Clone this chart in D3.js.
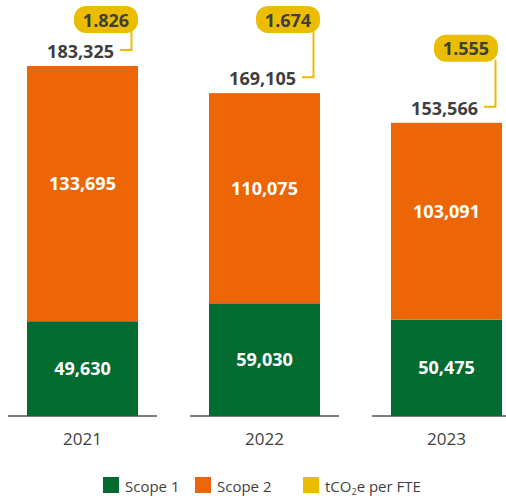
<!DOCTYPE html>
<html>
<head>
<meta charset="utf-8">
<script src="https://cdn.jsdelivr.net/npm/d3@7"></script>
<style>
  html, body { margin: 0; padding: 0; background: #fff; }
  svg { display: block; font-family: "Open Sans", "Noto Sans", sans-serif; }
</style>
</head>
<body>
<svg id="chart" width="506" height="496"></svg>
<script>
// Emissions by year (tCO2e)
const years = ["2021", "2022", "2023"];
const scope1 = [49630, 59030, 50475];
const scope2 = [133695, 110075, 103091];
const perFTE = [1.826, 1.674, 1.555];

const legendLabels = ["Scope 1", "Scope 2", "tCO₂e per FTE"];

const colors = { scope1: "#036b30", scope2: "#ec6608", fte: "#ebbd00" };
const textDark = "#3f3f3f";

const svg = d3.select("#chart");
const W = 506;

const x = d3.scaleBand()
  .domain(years)
  .range([-8.5, 537.5])
  .paddingInner(0.39)
  .paddingOuter(0.195);

const y = d3.scaleLinear()
  .domain([0, 200000])
  .range([416, 34.16]);

const fmt = d3.format(",");
const fmtFte = d3.format(".3f");

const rows = years.map((yr, i) => ({
  year: yr,
  s1: scope1[i],
  s2: scope2[i],
  total: scope1[i] + scope2[i],
  fte: perFTE[i]
}));

// baseline segment under each bar
svg.append("g").selectAll("line")
  .data(rows)
  .join("line")
  .attr("x1", d => x(d.year) + x.bandwidth() / 2 - 74.5)
  .attr("x2", d => x(d.year) + x.bandwidth() / 2 + 74.5)
  .attr("y1", y(0))
  .attr("y2", y(0))
  .attr("stroke", "#555")
  .attr("stroke-width", 1.6);

// stacked bars
const bars = svg.append("g");
bars.selectAll("rect.s1")
  .data(rows)
  .join("rect")
  .attr("class", "s1")
  .attr("x", d => x(d.year))
  .attr("width", x.bandwidth())
  .attr("y", d => y(d.s1))
  .attr("height", d => y(0) - y(d.s1))
  .attr("fill", colors.scope1);

bars.selectAll("rect.s2")
  .data(rows)
  .join("rect")
  .attr("class", "s2")
  .attr("x", d => x(d.year))
  .attr("width", x.bandwidth())
  .attr("y", d => y(d.total))
  .attr("height", d => y(d.s1) - y(d.total))
  .attr("fill", colors.scope2);

// segment value labels
const segLabels = svg.append("g")
  .attr("fill", "#fff")
  .attr("font-weight", 700)
  .attr("font-size", 18)
  .attr("text-anchor", "middle");

segLabels.selectAll("text.s1")
  .data(rows)
  .join("text")
  .attr("class", "s1")
  .attr("x", d => x(d.year) + x.bandwidth() / 2)
  .attr("y", d => (y(0) + y(d.s1)) / 2)
  .attr("dy", "0.36em")
  .text(d => fmt(d.s1));

segLabels.selectAll("text.s2")
  .data(rows)
  .join("text")
  .attr("class", "s2")
  .attr("x", d => x(d.year) + x.bandwidth() / 2)
  .attr("y", d => (y(d.s1) + y(d.total)) / 2 - 10)
  .attr("dy", "0.36em")
  .text(d => fmt(d.s2));

// totals with callout pills for intensity per FTE
const callouts = svg.append("g");
rows.forEach(d => {
  const right = x(d.year) + x.bandwidth();
  const top = y(d.total);
  const leaderY = top - 16;
  const vx = right - 6.5;
  const pillH = 27, pillW = 64;
  const pillBottom = Math.max(leaderY - 45, 33);
  const pillTop = pillBottom - pillH;
  const pillRight = Math.min(right, 498);
  const pillLeft = pillRight - pillW;

  const g = callouts.append("g");
  g.append("text")
    .attr("x", right - 24)
    .attr("y", top - 8)
    .attr("text-anchor", "end")
    .attr("font-weight", 700)
    .attr("font-size", 18)
    .attr("fill", textDark)
    .text(fmt(d.total));

  g.append("path")
    .attr("d", `M${right - 18},${leaderY}H${vx}V${pillBottom - 2}`)
    .attr("fill", "none")
    .attr("stroke", colors.fte)
    .attr("stroke-width", 2);

  g.append("rect")
    .attr("x", pillLeft)
    .attr("y", pillTop)
    .attr("width", pillW)
    .attr("height", pillH)
    .attr("rx", 12)
    .attr("fill", colors.fte);

  g.append("text")
    .attr("x", pillLeft + pillW / 2)
    .attr("y", pillTop + 20.5)
    .attr("text-anchor", "middle")
    .attr("font-weight", 700)
    .attr("font-size", 18)
    .attr("fill", textDark)
    .text(fmtFte(d.fte));
});

// year axis labels
svg.append("g").selectAll("text")
  .data(rows)
  .join("text")
  .attr("x", d => x(d.year) + x.bandwidth() / 2)
  .attr("y", 445)
  .attr("text-anchor", "middle")
  .attr("font-size", 17)
  .attr("fill", textDark)
  .text(d => d.year);

// legend
const legendX = [103, 195, 303];
const legendColors = [colors.scope1, colors.scope2, colors.fte];
const legend = svg.append("g");
legendLabels.forEach((lbl, i) => {
  legend.append("rect")
    .attr("x", legendX[i])
    .attr("y", 477)
    .attr("width", 16)
    .attr("height", 16)
    .attr("fill", legendColors[i]);
  const t = legend.append("text")
    .attr("x", legendX[i] + 22)
    .attr("y", 491.5)
    .attr("font-size", 15)
    .attr("fill", textDark);
  if (i === 2) {
    t.append("tspan").text("tCO");
    t.append("tspan").attr("font-size", 9).attr("dy", 3).text("2");
    t.append("tspan").attr("dy", -3).text("e per FTE");
  } else {
    t.text(lbl);
  }
});
</script>
</body>
</html>
